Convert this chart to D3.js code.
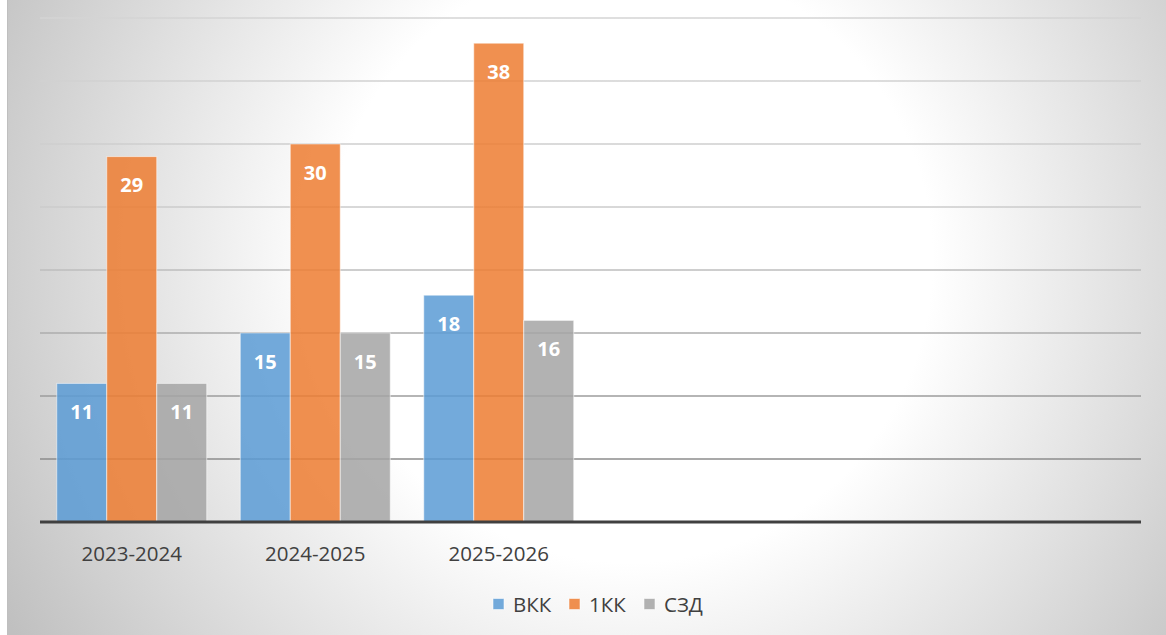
<!DOCTYPE html>
<html>
<head>
<meta charset="utf-8">
<script src="https://cdn.jsdelivr.net/npm/d3@7"></script>
<style>
  html, body { margin: 0; padding: 0; background: #fff; }
  svg { display: block; font-family: "Open Sans", sans-serif; }
</style>
</head>
<body>
<svg width="1166" height="635"></svg>
<script>
// categories (the chart has 3 empty slots on the right)
const categories = ['2023-2024', '2024-2025', '2025-2026', '', '', ''];
const seriesNames = ['ВКК', '1КК', 'СЗД'];
const seriesColors = ['#5b9bd5', '#ed7d31', '#a5a5a5'];
const vkk = [11, 15, 18];
const kk1 = [29, 30, 38];
const szd = [11, 15, 16];
const yTicks = [5, 10, 15, 20, 25, 30, 35, 40];

const series = [vkk, kk1, szd];

const svg = d3.select('svg');
const W = +svg.attr('width'), H = +svg.attr('height');

const defs = svg.append('defs');
const bg = defs.append('radialGradient')
  .attr('id', 'bg').attr('gradientUnits', 'userSpaceOnUse')
  .attr('cx', 630).attr('cy', 260).attr('r', 720);
bg.append('stop').attr('offset', 0).attr('stop-color', '#ffffff');
bg.append('stop').attr('offset', 0.42).attr('stop-color', '#ffffff');
bg.append('stop').attr('offset', 1).attr('stop-color', '#c0c0c0');

const y = d3.scaleLinear().domain([0, 40]).range([522, 18]);

const gridGrad = defs.append('linearGradient')
  .attr('id', 'grid').attr('gradientUnits', 'userSpaceOnUse')
  .attr('x1', 0).attr('x2', 0).attr('y1', y(40)).attr('y2', y(5));
gridGrad.append('stop').attr('offset', 0).attr('stop-color', '#d4d4d4');
gridGrad.append('stop').attr('offset', 0.45).attr('stop-color', '#cbcbcb');
gridGrad.append('stop').attr('offset', 1).attr('stop-color', '#8c8c8c');

// chart area
svg.append('rect')
  .attr('x', 7.5).attr('y', -1).attr('width', W).attr('height', H + 2)
  .attr('fill', 'url(#bg)').attr('stroke', '#bfbfbf');

const x = d3.scaleBand()
  .domain(d3.range(categories.length))
  .range([40, 1141]);

const gapRatio = 0.67;
const bw = x.bandwidth() / (seriesNames.length + gapRatio);
const xs = d3.scaleBand().domain(d3.range(seriesNames.length))
  .range([0, bw * seriesNames.length]);
const off = bw * gapRatio / 2;

// gridlines
svg.append('g').selectAll('line').data(yTicks).join('line')
  .attr('x1', 40).attr('x2', 1141)
  .attr('y1', d => y(d)).attr('y2', d => y(d))
  .attr('stroke', 'url(#grid)').attr('stroke-width', 1.6);

// bars
const groups = svg.append('g').selectAll('g').data(series).join('g');
groups.selectAll('rect').data((vals, si) => vals.map((v, ci) => ({v, ci, si})))
  .join('rect')
  .attr('x', d => x(d.ci) + off + xs(d.si))
  .attr('y', d => y(d.v))
  .attr('width', xs.bandwidth())
  .attr('height', d => y(0) - y(d.v))
  .attr('fill', d => seriesColors[d.si])
  .attr('fill-opacity', 0.85)
  .attr('stroke', '#ffffff').attr('stroke-opacity', 0.55).attr('stroke-width', 1);

groups.selectAll('text').data((vals, si) => vals.map((v, ci) => ({v, ci, si})))
  .join('text')
  .attr('x', d => x(d.ci) + off + xs(d.si) + xs.bandwidth() / 2)
  .attr('y', d => y(d.v) + 28)
  .attr('text-anchor', 'middle').attr('dominant-baseline', 'central')
  .attr('fill', '#ffffff').attr('font-weight', 'bold').attr('font-size', 20)
  .text(d => d.v);

// baseline
svg.append('line')
  .attr('x1', 40).attr('x2', 1141).attr('y1', y(0)).attr('y2', y(0))
  .attr('stroke', '#404040').attr('stroke-width', 3);

// category labels
svg.append('g').selectAll('text').data(categories).join('text')
  .attr('x', (d, i) => x(i) + x.bandwidth() / 2)
  .attr('y', 553)
  .attr('text-anchor', 'middle').attr('dominant-baseline', 'central')
  .attr('fill', '#404040').attr('font-size', 20.5)
  .text(d => d);

// legend
const legendX = [493, 569, 644];
const leg = svg.append('g').selectAll('g').data(seriesNames).join('g')
  .attr('transform', (d, i) => `translate(${legendX[i]},604)`);
leg.append('rect').attr('x', 0).attr('y', -5.5).attr('width', 11).attr('height', 11)
  .attr('fill', (d, i) => seriesColors[i]).attr('fill-opacity', 0.85)
  .attr('stroke', '#fff').attr('stroke-opacity', 0.55);
leg.append('text').attr('x', 20).attr('y', 0)
  .attr('dominant-baseline', 'central')
  .attr('fill', '#404040').attr('font-size', 20.5)
  .text(d => d);
</script>
</body>
</html>
